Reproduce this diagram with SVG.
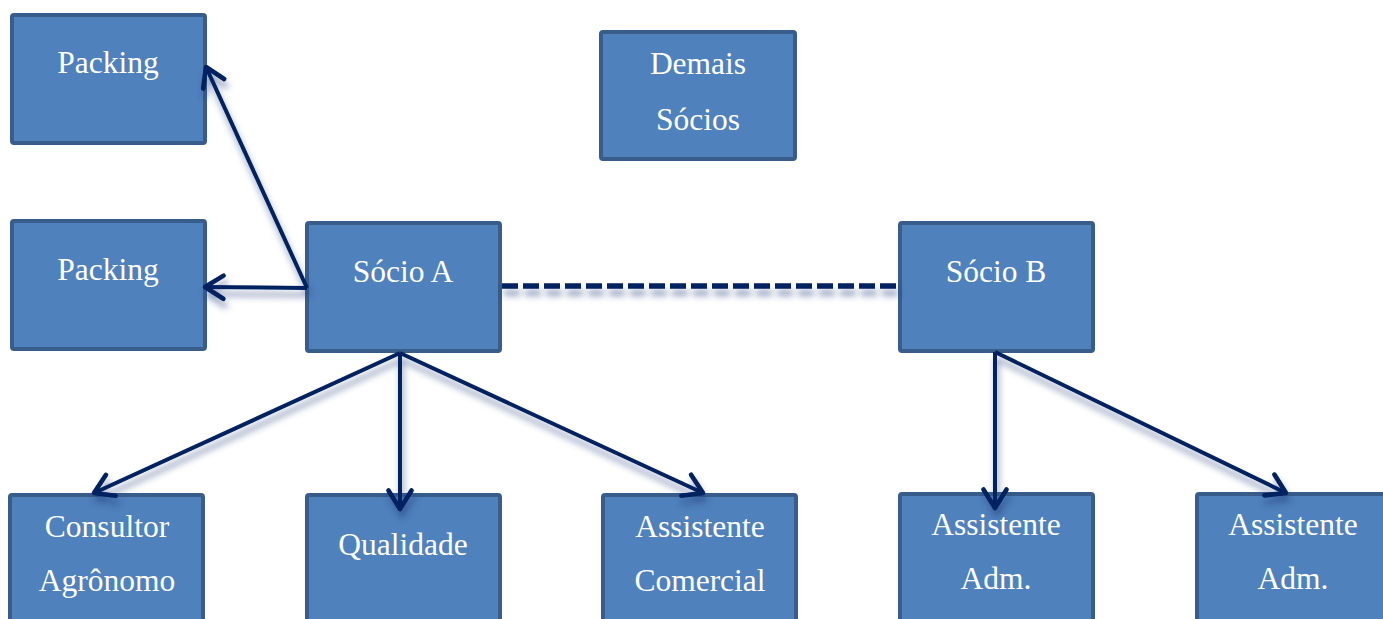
<svg xmlns="http://www.w3.org/2000/svg" width="1383" height="619" viewBox="0 0 1383 619">
<style>
.box{fill:#4F81BD;stroke:#385D8A;stroke-width:4;}
.lbl{font-family:"Liberation Serif","Times New Roman",serif;font-size:31.5px;fill:#FFFFFF;text-anchor:middle;}
.con{stroke:#002060;stroke-width:4;fill:none;}
.dash{stroke:#002060;stroke-width:5.5;fill:none;stroke-dasharray:16 5;}
</style>
<defs>
<marker id="arr" markerUnits="userSpaceOnUse" markerWidth="30" markerHeight="30" refX="0" refY="0" viewBox="-20 -13 24 26" orient="auto">
<path d="M-16,-10 L0,0 L-16,10" fill="none" stroke="#002060" stroke-width="4" stroke-linecap="round" stroke-linejoin="round"/>
</marker>
<filter id="sh" x="-20%" y="-20%" width="140%" height="160%">
<feDropShadow dx="2" dy="7" stdDeviation="3" flood-color="#1F3C78" flood-opacity="0.5"/>
</filter>
</defs>
<g id="packing1"><rect class="box" x="12" y="15" width="193" height="128" rx="2"/><text class="lbl" x="108" y="73">Packing</text></g>
<g id="packing2"><rect class="box" x="12" y="221" width="193" height="128" rx="2"/><text class="lbl" x="108" y="280">Packing</text></g>
<g id="demais"><rect class="box" x="601" y="32" width="194" height="127" rx="2"/><text class="lbl" x="698" y="74">Demais</text><text class="lbl" x="698" y="130">Sócios</text></g>
<g id="socioA"><rect class="box" x="307" y="223" width="193" height="128" rx="2"/><text class="lbl" x="403" y="282">Sócio A</text></g>
<g id="socioB"><rect class="box" x="900" y="223" width="193" height="128" rx="2"/><text class="lbl" x="996" y="282">Sócio B</text></g>
<g id="consultor"><rect class="box" x="10" y="495" width="193" height="140" rx="2"/><text class="lbl" x="107" y="537">Consultor</text><text class="lbl" x="107" y="591">Agrônomo</text></g>
<g id="qualidade"><rect class="box" x="307" y="495" width="193" height="140" rx="2"/><text class="lbl" x="403" y="555">Qualidade</text></g>
<g id="comercial"><rect class="box" x="603" y="495" width="193" height="140" rx="2"/><text class="lbl" x="700" y="537">Assistente</text><text class="lbl" x="700" y="591">Comercial</text></g>
<g id="adm1"><rect class="box" x="900" y="494" width="193" height="140" rx="2"/><text class="lbl" x="996" y="535">Assistente</text><text class="lbl" x="996" y="589">Adm.</text></g>
<g id="adm2"><rect class="box" x="1197" y="494" width="193" height="140" rx="2"/><text class="lbl" x="1293" y="535">Assistente</text><text class="lbl" x="1293" y="589">Adm.</text></g>
<g id="connectors" filter="url(#sh)">
<line class="con" x1="307" y1="288" x2="206" y2="67" marker-end="url(#arr)"/>
<line class="con" x1="307" y1="288" x2="205" y2="287" marker-end="url(#arr)"/>
<line class="dash" x1="502" y1="286" x2="899" y2="286"/>
<line class="con" x1="400" y1="353" x2="94" y2="493" marker-end="url(#arr)"/>
<line class="con" x1="400" y1="353" x2="400" y2="509" marker-end="url(#arr)"/>
<line class="con" x1="400" y1="353" x2="703" y2="493" marker-end="url(#arr)"/>
<line class="con" x1="995" y1="352" x2="995" y2="508" marker-end="url(#arr)"/>
<line class="con" x1="995" y1="352" x2="1286" y2="493" marker-end="url(#arr)"/>
</g>
</svg>
